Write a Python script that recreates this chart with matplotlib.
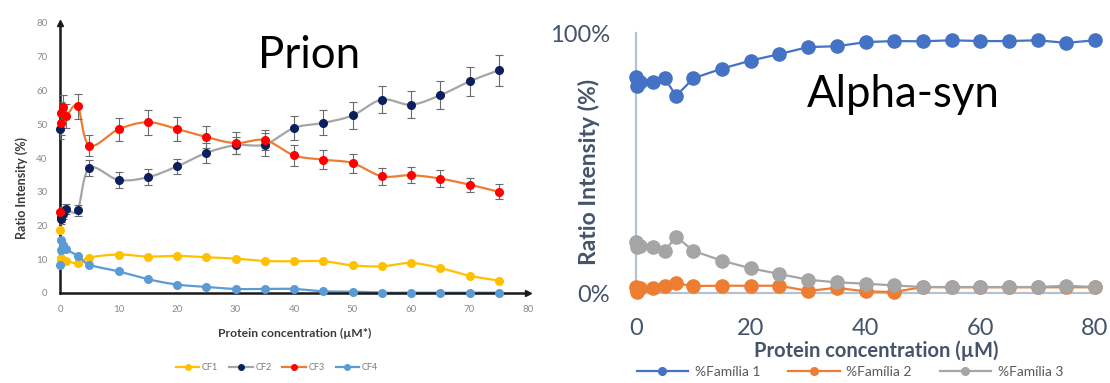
import numpy as np
import matplotlib
matplotlib.use("Agg")
import matplotlib.pyplot as plt
from matplotlib.lines import Line2D

plt.rcParams["font.family"] = ["Lato", "DejaVu Sans"]

# ---------------- Prion data (ratio intensity, %) ----------------
prion_conc = [0, 0.1, 0.25, 0.5, 1, 3, 5, 10, 15, 20, 25, 30, 35, 40, 45, 50, 55, 60, 65, 70, 75]
cf1 = [18.7, 10.5, 10.0, 9.8, 9.6, 8.8, 10.5, 11.4, 10.8, 11.0, 10.6, 10.2, 9.5, 9.4, 9.4, 8.2, 7.9, 8.9, 7.4, 5.1, 3.7]
cf2 = [48.7, 22.0, 22.5, 23.5, 25.0, 24.5, 37.0, 33.5, 34.3, 37.5, 41.5, 43.8, 44.0, 48.9, 50.4, 52.6, 57.3, 55.8, 58.6, 62.7, 66.0]
cf3 = [24.0, 53.2, 50.3, 55.2, 52.4, 55.4, 43.7, 48.5, 50.6, 48.6, 46.2, 44.4, 45.3, 40.8, 39.5, 38.5, 34.6, 34.9, 33.9, 32.1, 30.0]
cf4 = [8.2, 12.6, 15.7, 14.2, 12.9, 11.1, 8.4, 6.4, 4.1, 2.5, 1.8, 1.2, 1.2, 1.2, 0.5, 0.4, 0.1, 0.1, 0.1, 0.1, 0.1]
cf2_err = [3.0, 1.5, 1.5, 1.5, 1.5, 1.6, 2.3, 2.3, 2.3, 2.3, 3.0, 2.5, 3.3, 3.5, 3.7, 3.9, 3.9, 4.0, 4.1, 4.4, 4.6]
cf3_err = [1.5, 3.5, 3.5, 3.5, 3.5, 3.7, 3.0, 3.4, 3.7, 3.6, 3.2, 3.2, 3.0, 3.2, 2.9, 2.8, 2.5, 2.3, 2.4, 2.1, 2.2]
prion_labels = ["CF1", "CF2", "CF3", "CF4"]

# ---------------- Alpha-synuclein data (ratio intensity, %) ----------------
syn_conc = [0, 0.1, 0.75, 3, 5, 7, 10, 15, 20, 25, 30, 35, 40, 45, 50, 55, 60, 65, 70, 75, 80]
fam1 = [83.2, 79.5, 81.3, 81.3, 82.6, 75.8, 82.6, 86.3, 89.4, 91.9, 94.6, 94.9, 96.5, 96.9, 96.8, 97.2, 96.9, 96.9, 97.2, 96.2, 97.2]
fam2 = [2.4, 0.5, 1.8, 1.8, 2.7, 3.7, 2.7, 2.8, 2.8, 2.8, 0.8, 2.0, 0.6, 0.4, 2.3, 2.2, 2.2, 2.2, 2.2, 2.2, 2.2]
fam3 = [19.7, 17.8, 18.2, 17.8, 16.2, 21.7, 16.2, 12.4, 9.5, 7.3, 5.1, 4.1, 3.6, 2.9, 2.3, 2.3, 2.3, 2.3, 2.3, 2.8, 2.3]
syn_labels = ["%Família 1", "%Família 2", "%Família 3"]


def smooth_curve(x, y, xspan, yspan, n=24):
    """Excel-style smoothed path (parametric Catmull-Rom) through the points."""
    pts = np.column_stack([np.asarray(x, float) / xspan, np.asarray(y, float) / yspan])
    ext = np.vstack([pts[0], pts, pts[-1]])
    t = np.linspace(0, 1, n)[:, None]
    segs = []
    for i in range(len(pts) - 1):
        p0, p1, p2, p3 = ext[i], ext[i + 1], ext[i + 2], ext[i + 3]
        seg = 0.5 * (2 * p1 + (-p0 + p2) * t + (2 * p0 - 5 * p1 + 4 * p2 - p3) * t ** 2
                     + (-p0 + 3 * p1 - 3 * p2 + p3) * t ** 3)
        segs.append(seg if i == 0 else seg[1:])
    path = np.vstack(segs)
    return path[:, 0] * xspan, path[:, 1] * yspan


W, H = 1110, 383
fig = plt.figure(figsize=(W / 100, H / 100), dpi=100)

# ================= Left panel: Prion =================
ax1 = fig.add_axes([60 / W, 90 / H, 468 / W, 270 / H])
ax1.set_xlim(0, 80)
ax1.set_ylim(0, 80)
for side in ["top", "right"]:
    ax1.spines[side].set_visible(False)
for side in ["left", "bottom"]:
    ax1.spines[side].set_color("#1a1a1a")
    ax1.spines[side].set_linewidth(1.8)
ax1.plot(1, 0, ">", color="#1a1a1a", ms=5, transform=ax1.get_yaxis_transform(), clip_on=False)
ax1.plot(0, 1, "^", color="#1a1a1a", ms=5, transform=ax1.get_xaxis_transform(), clip_on=False)
ax1.set_xticks(np.arange(0, 81, 10))
ax1.set_yticks(np.arange(0, 81, 10))
ax1.tick_params(length=0, labelsize=7, labelcolor="#8a8a8a")
ax1.tick_params(axis="y", pad=9)
ax1.tick_params(axis="x", pad=9)

prion_series = [
    (cf1, None, "#FFC000", "#FFC000"),
    (cf2, cf2_err, "#A5A5A5", "#0B1F5C"),
    (cf3, cf3_err, "#ED7D31", "#FF0000"),
    (cf4, None, "#5B9BD5", "#5B9BD5"),
]
prion_handles = []
for (vals, err, lc, mc), lab in zip(prion_series, prion_labels):
    sx, sy = smooth_curve(prion_conc, vals, 80, 80)
    ax1.plot(sx, sy, color=lc, lw=1.6, zorder=2, clip_on=False)
    if err is not None:
        ax1.errorbar(prion_conc, vals, yerr=err, fmt="none", ecolor="#6b6b6b",
                     elinewidth=0.8, capsize=2.8, capthick=0.8, zorder=3)
    ax1.plot(prion_conc, vals, "o", color=mc, ms=5.5, zorder=4, clip_on=False)
    prion_handles.append(Line2D([], [], color=lc, lw=1.6, marker="o", ms=4,
                                markerfacecolor=mc, markeredgecolor=mc))

fig.text(22 / W, 1 - 188 / H, "Ratio Intensity (%)", rotation=90, ha="center", va="center",
         fontsize=9, fontweight="bold", color="#3a3a3a")
fig.text(295 / W, 1 - 333 / H, "Protein concentration (µM*)", ha="center", va="center",
         fontsize=8.7, fontweight="bold", color="#3a3a3a")
fig.legend(prion_handles, prion_labels, loc="center", bbox_to_anchor=(277 / W, 1 - 368 / H),
           ncol=4, frameon=False, fontsize=6.5, handlelength=2.6, columnspacing=1.2,
           handletextpad=0.3, labelcolor="#7a7a7a")
fig.text(309 / W, 1 - 68 / H, "Prion", ha="center", va="baseline", fontsize=31.5, color="black")

# ================= Right panel: Alpha-synuclein =================
ax2 = fig.add_axes([636 / W, 90 / H, 459 / W, 260 / H])
ax2.set_xlim(0, 80)
ax2.set_ylim(0, 100)
for side in ["top", "right"]:
    ax2.spines[side].set_visible(False)
for side in ["left", "bottom"]:
    ax2.spines[side].set_color("#B4C0D4")
    ax2.spines[side].set_linewidth(1.6)
ax2.set_xticks([0, 20, 40, 60, 80])
ax2.set_yticks([0, 100])
ax2.set_yticklabels(["0%", "100%"])
ax2.tick_params(length=0, labelsize=17, labelcolor="#44546A")
ax2.tick_params(axis="y", pad=18.5)
ax2.tick_params(axis="x", pad=18)

syn_colors = ["#4472C4", "#ED7D31", "#A5A5A5"]
syn_handles = []
for vals, col, lab in zip([fam1, fam2, fam3], syn_colors, syn_labels):
    ax2.plot(syn_conc, vals, "-o", color=col, lw=1.6, ms=9.5, clip_on=False, zorder=3)
    syn_handles.append(Line2D([], [], color=col, lw=1.6, marker="o", ms=5.5))

fig.text(589 / W, 1 - 172 / H, "Ratio Intensity (%)", rotation=90, ha="center", va="center",
         fontsize=16.5, fontweight="bold", color="#44546A")
fig.text(876 / W, 1 - 351 / H, "Protein concentration (µM)", ha="center", va="center",
         fontsize=14.5, fontweight="bold", color="#44546A")
fig.legend(syn_handles, syn_labels, loc="center", bbox_to_anchor=(850 / W, 1 - 372 / H),
           ncol=3, frameon=False, fontsize=10, handlelength=3.7, columnspacing=2.0,
           handletextpad=0.5, labelcolor="#595959")
fig.text(903 / W, 1 - 107 / H, "Alpha-syn", ha="center", va="baseline", fontsize=31.5, color="black")

fig.savefig("out.png", dpi=100)
